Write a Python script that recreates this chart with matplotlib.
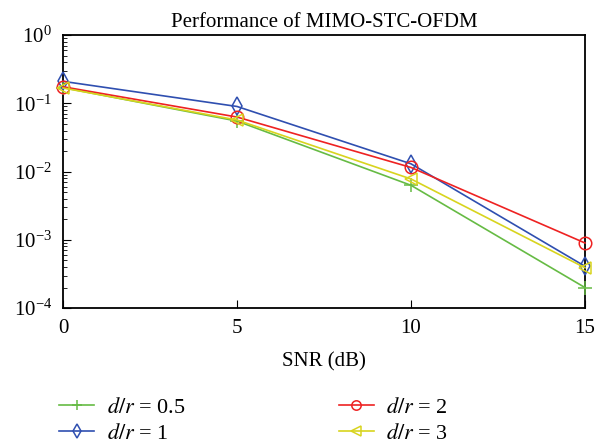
import matplotlib
matplotlib.use('Agg')
import matplotlib.pyplot as plt
import numpy as np

plt.rcParams['font.family'] = ['Liberation Serif', 'DejaVu Serif']
plt.rcParams['mathtext.fontset'] = 'stix'

snr = [0, 5, 10, 15]
ber_05 = [0.17, 0.055, 0.0063, 0.0002]
ber_1 = [0.21, 0.09, 0.013, 0.00041]
ber_2 = [0.175, 0.063, 0.0115, 0.0009]
ber_3 = [0.168, 0.057, 0.0078, 0.00039]
labels = ['$d/r$ = 0.5', '$d/r$ = 1', '$d/r$ = 2', '$d/r$ = 3']


def main():
    fig = plt.figure(figsize=(6.08, 4.44), dpi=100)
    ax = fig.add_axes([0.1036, 0.306, 0.8586, 0.615])

    # markers sit on the axes edges, so don't clip them
    ax.semilogy(snr, ber_05, color='#66bb44', marker='+', ms=10, mew=1.1, lw=1.2,
                label=labels[0], clip_on=False, zorder=3)
    ax.semilogy(snr, ber_1, color='#2f4fb0', marker='d', ms=9, mfc='none', mew=1.1, lw=1.2,
                label=labels[1], clip_on=False, zorder=3)
    ax.semilogy(snr, ber_2, color='#ee2222', marker='o', ms=9, mfc='none', mew=1.1, lw=1.2,
                label=labels[2], clip_on=False, zorder=3)
    ax.semilogy(snr, ber_3, color='#d8d41e', marker='<', ms=9, mfc='none', mew=1.1, lw=1.2,
                label=labels[3], clip_on=False, zorder=3)

    ax.set_xlim(0, 15)
    ax.set_ylim(1e-4, 1)
    ax.set_xticks([0, 5, 10, 15])
    ax.set_yticks([1e-4, 1e-3, 1e-2, 1e-1, 1])
    ax.tick_params(axis='both', which='both', direction='in', labelsize=15, pad=8)
    ax.tick_params(axis='y', which='major', length=6)
    ax.tick_params(axis='y', which='minor', length=3)
    ax.tick_params(axis='x', which='major', length=6)
    for s in ax.spines.values():
        s.set_linewidth(1.3)

    ax.set_title('Performance of MIMO-STC-OFDM', fontsize=15, pad=6)
    ax.set_xlabel('SNR (dB)', fontsize=15, labelpad=10)

    fig.legend(loc='lower left', bbox_to_anchor=(0.064, -0.045), ncol=2, frameon=False,
               fontsize=16, handlelength=1.6, columnspacing=6.9, labelspacing=0.25,
               handletextpad=0.55, markerscale=0.75)

    fig.savefig('out.png', dpi=100)


if __name__ == '__main__':
    main()
